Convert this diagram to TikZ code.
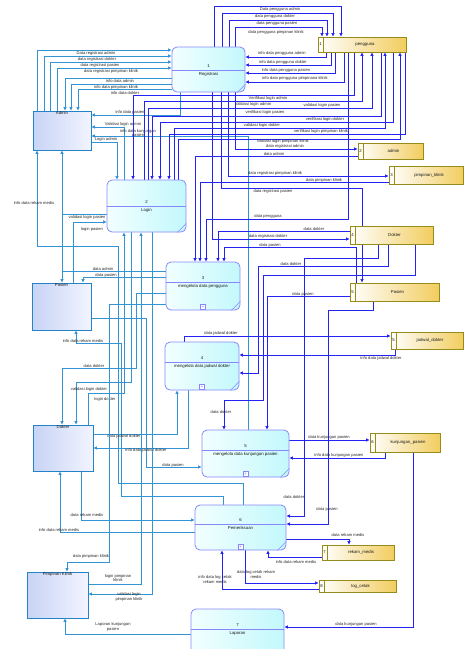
\documentclass[tikz,border=0pt]{standalone}
\usepackage{fontspec}
\setmainfont{Liberation Sans}
\usetikzlibrary{arrows.meta}

\definecolor{extline}{RGB}{50,148,212}
\definecolor{dsline}{RGB}{35,35,245}
\definecolor{procdraw}{RGB}{135,135,250}
\definecolor{procleft}{RGB}{242,255,255}
\definecolor{procright}{RGB}{195,248,252}
\definecolor{entdraw}{RGB}{35,130,200}
\definecolor{entleft}{RGB}{200,212,245}
\definecolor{entright}{RGB}{242,244,255}
\definecolor{storedraw}{RGB}{150,140,25}
\definecolor{storeright}{RGB}{242,205,95}

\pgfdeclarelayer{bg}
\pgfsetlayers{bg,main}

\tikzset{
  proc/.style={draw=procdraw, line width=0.8pt, rounded corners=5pt, left color=procleft, right color=procright, inner sep=0pt},
  ent/.style={draw=entdraw, line width=0.8pt, left color=entleft, right color=entright, inner sep=0pt},
  store/.style={draw=storedraw, line width=0.7pt, left color=white, right color=storeright, inner sep=0pt},
  txt/.style={font=\fontsize{4.3}{5}\selectfont, inner sep=0.5pt, text=black!90},
  lbl/.style={font=\fontsize{4.1}{4.7}\selectfont, inner sep=0.3pt, align=center, text=black!85},
  extflow/.style={draw=extline, line width=1pt, -{Latex[length=3.5pt,width=3.5pt]}},
  dsflow/.style={draw=dsline, line width=0.75pt, -{Latex[length=3.5pt,width=3.5pt]}},
  plusbox/.style={draw=procdraw, fill=white, minimum size=5pt, inner sep=0pt, anchor=south, text=procdraw, font=\fontsize{5}{5}\selectfont},
}

\begin{document}
\begin{tikzpicture}[x=1pt, y=-1pt]
\useasboundingbox (0,0) rectangle (464,649);

% processes
\node[proc, minimum width=73pt, minimum height=45pt] (p1) at (208.5,69.5) {};
\draw[procdraw, line width=0.8pt] (p1.west |- 0,70) -- (p1.east |- 0,70);
\draw[procdraw, line width=0.6pt] ([xshift=-8pt]p1.south east) -- ([yshift=8pt]p1.south east);
\node[txt] (p1n) at (p1.center |- 0,66) {1};
\node[txt] (p1t) at (p1.center |- 0,74) {Registrasi};

\node[proc, minimum width=79pt, minimum height=52pt] (p2) at (146.5,206) {};
\draw[procdraw, line width=0.8pt] (p2.west |- 0,206) -- (p2.east |- 0,206);
\draw[procdraw, line width=0.6pt] ([xshift=-9pt]p2.south east) -- ([yshift=9pt]p2.south east);
\node[txt] (p2n) at (p2.center |- 0,202) {2};
\node[txt] (p2t) at (p2.center |- 0,210) {Login};

\node[proc, minimum width=74pt, minimum height=48pt] (p3) at (203,286) {};
\draw[procdraw, line width=0.8pt] (p3.west |- 0,282) -- (p3.east |- 0,282);
\draw[procdraw, line width=0.6pt] ([xshift=-9pt]p3.south east) -- ([yshift=9pt]p3.south east);
\node[txt] (p3n) at (p3.center |- 0,278) {3};
\node[txt] (p3t) at (p3.center |- 0,286) {mengelola data pengguna};
\node[plusbox] (p3plus) at ([yshift=1pt]p3.south) {+};

\node[proc, minimum width=74pt, minimum height=48pt] (p4) at (202,366) {};
\draw[procdraw, line width=0.8pt] (p4.west |- 0,362) -- (p4.east |- 0,362);
\draw[procdraw, line width=0.6pt] ([xshift=-9pt]p4.south east) -- ([yshift=9pt]p4.south east);
\node[txt] (p4n) at (p4.center |- 0,358) {4};
\node[txt] (p4t) at (p4.center |- 0,366) {mengelola data jadwal dokter};
\node[plusbox] (p4plus) at ([yshift=1pt]p4.south) {+};

\node[proc, minimum width=87pt, minimum height=47pt] (p5) at (245.5,453.5) {};
\draw[procdraw, line width=0.8pt] (p5.west |- 0,450) -- (p5.east |- 0,450);
\draw[procdraw, line width=0.6pt] ([xshift=-9pt]p5.south east) -- ([yshift=9pt]p5.south east);
\node[txt] (p5n) at (p5.center |- 0,446) {5};
\node[txt] (p5t) at (p5.center |- 0,454) {mengelola data kunjungan pasien};
\node[plusbox] (p5plus) at ([yshift=1pt]p5.south) {+};

\node[proc, minimum width=91pt, minimum height=45pt] (p6) at (240.5,527.5) {};
\draw[procdraw, line width=0.8pt] (p6.west |- 0,524) -- (p6.east |- 0,524);
\draw[procdraw, line width=0.6pt] ([xshift=-9pt]p6.south east) -- ([yshift=9pt]p6.south east);
\node[txt] (p6n) at (p6.center |- 0,520) {6};
\node[txt] (p6t) at (p6.center |- 0,528) {Pemeriksaan};
\node[plusbox] (p6plus) at ([yshift=1pt]p6.south) {+};

\node[proc, minimum width=93pt, minimum height=50pt] (p7) at (237.5,634) {};
\draw[procdraw, line width=0.8pt] (p7.west |- 0,629) -- (p7.east |- 0,629);
\node[txt] (p7n) at (p7.center |- 0,625) {7};
\node[txt] (p7t) at (p7.center |- 0,633) {Laporan};

% external entities
\node[ent, minimum width=58pt, minimum height=39pt] (admin) at (62,130.5) {};
\node[txt, below] (admint) at (admin.north) {Admin};
\node[ent, minimum width=59pt, minimum height=47pt] (pasien) at (61.5,306.5) {};
\node[txt, below] (pasient) at (pasien.north) {Pasien};
\node[ent, minimum width=60pt, minimum height=46pt] (dokter) at (63,448) {};
\node[txt, below] (doktert) at (dokter.north) {Dokter};
\node[ent, minimum width=61pt, minimum height=46pt] (pimpinan) at (57.5,595) {};
\node[txt, below] (pimpinant) at (pimpinan.north) {Pimpinan Klinik};

% data stores
\node[store, minimum width=88pt, minimum height=15pt] (s1) at (362,44.5) {};
\draw[storedraw, line width=0.7pt] ([xshift=6pt]s1.north west) -- ([xshift=6pt]s1.south west);
\node[txt] (s1n) at ([xshift=3pt]s1.west) {1};
\node[txt] (s1t) at ([xshift=3pt]s1.center) {pengguna};

\node[store, minimum width=65pt, minimum height=16pt] (s2) at (390.5,151) {};
\draw[storedraw, line width=0.7pt] ([xshift=6pt]s2.north west) -- ([xshift=6pt]s2.south west);
\node[txt] (s2n) at ([xshift=3pt]s2.west) {2};
\node[txt] (s2t) at ([xshift=3pt]s2.center) {admin};

\node[store, minimum width=74pt, minimum height=18pt] (s3) at (426,175) {};
\draw[storedraw, line width=0.7pt] ([xshift=6pt]s3.north west) -- ([xshift=6pt]s3.south west);
\node[txt] (s3n) at ([xshift=3pt]s3.west) {3};
\node[txt] (s3t) at ([xshift=3pt]s3.center) {pimpinan\_klinik};

\node[store, minimum width=83pt, minimum height=18pt] (s4) at (391.5,235) {};
\draw[storedraw, line width=0.7pt] ([xshift=6pt]s4.north west) -- ([xshift=6pt]s4.south west);
\node[txt] (s4n) at ([xshift=3pt]s4.west) {4};
\node[txt] (s4t) at ([xshift=3pt]s4.center) {Dokter};

\node[store, minimum width=89pt, minimum height=18pt] (s5) at (394.5,292) {};
\draw[storedraw, line width=0.7pt] ([xshift=6pt]s5.north west) -- ([xshift=6pt]s5.south west);
\node[txt] (s5n) at ([xshift=3pt]s5.west) {5};
\node[txt] (s5t) at ([xshift=3pt]s5.center) {Pasien};

\node[store, minimum width=72pt, minimum height=17pt] (sj) at (427,340.5) {};
\draw[storedraw, line width=0.7pt] ([xshift=6pt]sj.north west) -- ([xshift=6pt]sj.south west);
\node[txt] (sjn) at ([xshift=3pt]sj.west) {5};
\node[txt] (sjt) at ([xshift=3pt]sj.center) {jadwal\_dokter};

\node[store, minimum width=70pt, minimum height=19pt] (s6) at (405,442.5) {};
\draw[storedraw, line width=0.7pt] ([xshift=6pt]s6.north west) -- ([xshift=6pt]s6.south west);
\node[txt] (s6n) at ([xshift=3pt]s6.west) {6};
\node[txt] (s6t) at ([xshift=3pt]s6.center) {kunjungan\_pasien};

\node[store, minimum width=72pt, minimum height=15pt] (s7) at (358,552.5) {};
\draw[storedraw, line width=0.7pt] ([xshift=6pt]s7.north west) -- ([xshift=6pt]s7.south west);
\node[txt] (s7n) at ([xshift=3pt]s7.west) {7};
\node[txt] (s7t) at ([xshift=3pt]s7.center) {rekam\_medis};

\node[store, minimum width=77pt, minimum height=12pt] (s8) at (357.5,586) {};
\draw[storedraw, line width=0.7pt] ([xshift=6pt]s8.north west) -- ([xshift=6pt]s8.south west);
\node[txt] (s8n) at ([xshift=3pt]s8.west) {8};
\node[txt] (s8t) at ([xshift=3pt]s8.center) {log\_cetak};

\begin{pgfonlayer}{bg}
% admin <-> registrasi / login
\draw[extflow] (admin.north -| 37,0) |- (p1.west |- 0,50) node[lbl] at (96,53) {Data registrasi admin};
\draw[extflow] (admin.north -| 44,0) |- (p1.west |- 0,56) node[lbl] at (97,59) {data registrasi dokter};
\draw[extflow] (admin.north -| 50,0) |- (p1.west |- 0,62) node[lbl] at (100,65) {data registrasi pasien};
\draw[extflow] (admin.north -| 57,0) |- (p1.west |- 0,68) node[lbl] at (111,71) {data registrasi pimpinan klinik};
\draw[extflow] (p1.west |- 0,78) -| (admin.north -| 65,0) node[lbl] at (120,81.5) {info data admin};
\draw[extflow] (p1.west |- 0,84) -| (admin.north -| 71,0) node[lbl] at (116,87.5) {info data pimpinan klinik};
\draw[extflow] (p1.west |- 0,89) -| (admin.north -| 78,0) node[lbl] at (125,93) {info data dokter};
\draw[extflow] (p1.south -| 180,0) |- (admin.east |- 0,115) node[lbl] at (130,112) {info data pasien};
\draw[extflow] (p2.north -| 124,0) |- (admin.east |- 0,127) node[lbl] at (123,124) {Validasi login admin};
\draw[extflow] (p5.north -| 248,0) |- (admin.east |- 0,136) node[lbl] at (138,133.5) {info data kunjungan\\pasien};
\draw[extflow] (admin.east |- 0,142) -| (p2.north -| 117,0) node[lbl] at (106,139.5) {Login admin};

% pasien
\draw[extflow] (pasien.north -| 73,0) |- (p2.west |- 0,222) node[lbl] at (92,229) {login pasien};
\draw[extflow] (p2.west |- 0,214) -| (pasien.north -| 62,0) node[lbl] at (87,217.5) {validasi login pasien};
\draw[extflow] (p3.west |- 0,271) -| (admin.south -| 62,0) node[lbl] at (103,269) {data admin};
\draw[extflow] (p3.west |- 0,277) -| (pasien.north -| 83,0) node[lbl] at (106,275) {data pasien};
\draw[extflow] (p6.north -| 243,0) |- (118,483) -- (118,246) -| (admin.south -| 37,0) node[lbl] at (34,203) {info data rekam medis};
\draw[extflow] (p6.north -| 223,0) |- (121,496) -- (121,343) -| (pasien.south -| 76,0) node[lbl] at (83,341) {info data rekam medis};
\draw[extflow] (pasien.east |- 0,318) -| (146,467) -- (p5.west |- 0,467) node[lbl] at (173,465) {data pasien};

% dokter
\draw[extflow] (p3.west |- 0,293) -| (136,368) -| (dokter.north -| 62,0) node[lbl] at (94,366) {data dokter};
\draw[extflow] (p2.south -| 131,0) |- (76,382) -- (dokter.north -| 76,0) node[lbl] at (89,389) {validasi login dokter};
\draw[extflow] (dokter.north -| 88,0) |- (124,393) -- (p2.south -| 124,0) node[lbl] at (105,399) {login dokter};
\draw[extflow] (dokter.east |- 0,434) -| (p4.south -| 177,0) node[lbl] at (124,436.5) {data jadwal dokter};
\draw[extflow] (p4.south -| 188,0) |- (dokter.east |- 0,448) node[lbl] at (146,450.5) {info data jadwal dokter};
\draw[extflow] (dokter.south -| 81,0) |- (p6.west |- 0,520) node[lbl] at (87,515.5) {data rekam medis};
\draw[extflow] (p6.west |- 0,532) -| (dokter.south -| 60,0) node[lbl] at (59,530) {info data rekam medis};

% pimpinan klinik
\draw[extflow] (p3.west |- 0,304) -| (109,562) -| (pimpinan.north -| 67,0) node[lbl] at (91,556) {data pimpinan klinik};
\draw[extflow] (pimpinan.east |- 0,584) -| (p2.south -| 141,0) node[lbl] at (118,578) {login pimpinan\\klinik};
\draw[extflow] (p2.south -| 152,0) |- (pimpinan.east |- 0,594) node[lbl] at (129,597) {validasi login\\pimpinan klinik};
\draw[extflow] (p7.west |- 0,634) -| (pimpinan.south -| 65,0) node[lbl] at (113,627) {Laporan kunjungan\\pasien};

% store pengguna
\draw[dsflow] (p1.north -| 214,0) |- (341,6) -- (s1.north -| 341,0) node[lbl] at (280,9) {Data pengguna admin};
\draw[dsflow] (p1.north -| 222,0) |- (333,13) -- (s1.north -| 333,0) node[lbl] at (275,16) {data pengguna dokter};
\draw[dsflow] (p1.north -| 229,0) |- (327,20) -- (s1.north -| 327,0) node[lbl] at (277,23.5) {data pengguna pasien};
\draw[dsflow] (p1.north -| 235,0) |- (322,27) -- (s1.north -| 322,0) node[lbl] at (276,32.5) {data pengguna pimpinan klinik};
\draw[dsflow] (s1.south -| 326,0) |- (p1.east |- 0,57) node[lbl] at (282,53.5) {info data pengguna admin};
\draw[dsflow] (s1.south -| 331,0) |- (p1.east |- 0,65) node[lbl] at (283,62) {info data pengguna dokter};
\draw[dsflow] (s1.south -| 335,0) |- (p1.east |- 0,73) node[lbl] at (286,70) {info data pengguna pasien};
\draw[dsflow] (s1.south -| 344,0) |- (p1.east |- 0,82) node[lbl] at (295,78.5) {info data pengguna pimpinana klinik};

% verifikasi / validasi login
\draw[dsflow] (s1.south -| 354,0) |- (133,95) -- (p2.north -| 133,0) node[lbl] at (268,98) {Verifikasi login admin};
\draw[dsflow] (p2.north -| 144,0) |- (362,101) -- (s1.south -| 362,0) node[lbl] at (253,104.5) {Validasi login admin};
\draw[dsflow] (p2.north -| 148,0) |- (372,108) -- (s1.south -| 372,0) node[lbl] at (322,105.5) {validasi login pasien};
\draw[dsflow] (s1.south -| 381,0) |- (152,116) -- (p2.north -| 152,0) node[lbl] at (265,112.5) {verifikasi login pasien};
\draw[dsflow] (s1.south -| 393,0) |- (160,122) -- (p2.north -| 160,0) node[lbl] at (325,119.5) {verifikasi login dokter};
\draw[dsflow] (p2.north -| 174,0) |- (385,128) -- (s1.south -| 385,0) node[lbl] at (262,125.5) {validasi login dokter};
\draw[dsflow] (s1.south -| 405,0) |- (169,134) -- (p2.north -| 169,0) node[lbl] at (321,131.5) {verifikasi login pimpinan klinik};
\draw[dsflow] (p2.north -| 178,0) |- (400,139) -- (s1.south -| 400,0) node[lbl] at (283,141.5) {validasi login pimpinan klinik};

% registrasi and pengguna to stores / process 3
\draw[dsflow] (p1.south -| 235,0) |- (s2.west |- 0,149) node[lbl] at (285,146.5) {data registrasi admin};
\draw[dsflow] (s2.west |- 0,156) -| (p3.north -| 195,0) node[lbl] at (274,154) {data admin};
\draw[dsflow] (p1.south -| 228,0) |- (s3.west |- 0,176) node[lbl] at (275,173.5) {data registrasi pimpinan klinik};
\draw[dsflow] (s3.west |- 0,182) -| (p3.north -| 200,0) node[lbl] at (324,180) {data pimpinan klinik};
\draw[dsflow] (p1.south -| 221,0) |- (362,188) -- (s5.north -| 362,0) node[lbl] at (273,191) {data registrasi pasien};
\draw[dsflow] (s1.south -| 348,0) |- (206,219) -- (p3.north -| 206,0) node[lbl] at (268,216.5) {data pengguna};
\draw[dsflow] (s4.west |- 0,231) -| (p3.north -| 218,0) node[lbl] at (314,229) {data dokter};
\draw[dsflow] (p1.south -| 212,0) |- (s4.west |- 0,239) node[lbl] at (268,236.5) {data registrasi dokter};
\draw[dsflow] (s5.north -| 356,0) |- (224,247) -- (p3.north -| 224,0) node[lbl] at (270,245) {data pasien};

% dokter and pasien stores
\draw[dsflow] (s4.south -| 388,0) |- (258,266) |- (p4.east |- 0,373) node[lbl] at (291,264) {data dokter};
\draw[dsflow] (s4.south -| 415,0) |- (263,275) |- (224,400) -- (p5.north -| 224,0) node[lbl] at (221,412) {data dokter};
\draw[dsflow] (s4.south -| 378,0) |- (304,258) |- (p6.east |- 0,516) node[lbl] at (294,497) {data dokter};
\draw[dsflow] (s5.west |- 0,296) -| (p5.north -| 267,0) node[lbl] at (303,294) {data pasien};
\draw[dsflow] (s5.south -| 373,0) |- (328,310) |- (p6.east |- 0,524) node[lbl] at (327,509) {data pasien};

% jadwal, kunjungan, rekam medis, log cetak
\draw[dsflow] (p4.north -| 184,0) |- (sj.west |- 0,336) node[lbl] at (221,333.5) {data jadwal dokter};
\draw[dsflow] (sj.south -| 395,0) |- (p4.east |- 0,355) node[lbl] at (381,358.5) {info data jadwal dokter};
\draw[dsflow] (p5.east |- 0,440) -- (s6.west |- 0,440) node[lbl] at (329,437) {data kunjungan pasien};
\draw[dsflow] (s6.south -| 385,0) |- (p5.east |- 0,458) node[lbl] at (339,455) {info data kunjungan pasien};
\draw[dsflow] (s6.south -| 413,0) |- (p7.east |- 0,627) node[lbl] at (356,624) {data kunjungan pasien};
\draw[dsflow] (p6.east |- 0,539) -| (s7.north -| 349,0) node[lbl] at (348,535.5) {data rekam medis};
\draw[dsflow] (s7.west |- 0,557) -| (p6.south -| 268,0) node[lbl] at (296,562) {info data rekam medis};
\draw[dsflow] (p6.south -| 245,0) |- (s8.west |- 0,583) node[lbl] at (256,574.5) {data log cetak rekam\\medis};
\draw[dsflow] (s8.west |- 0,589) -| (p6.south -| 222,0) node[lbl] at (215,579.5) {info data log cetak\\rekam medis};
\end{pgfonlayer}
\end{tikzpicture}
\end{document}
